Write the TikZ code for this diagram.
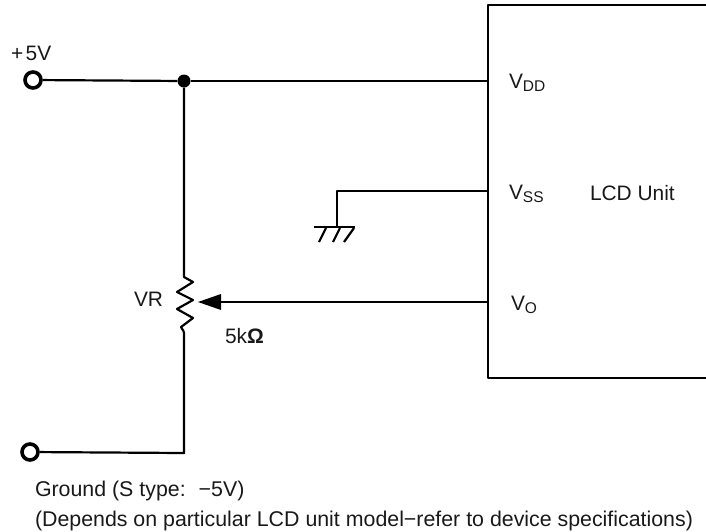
\documentclass[tikz,border=0pt]{standalone}
\usepackage{fontspec}
\setmainfont{Liberation Sans}
\newcommand{\lowidx}[1]{\raisebox{-3pt}{\fontsize{15.5}{18}\selectfont #1}}
\begin{document}
\begin{tikzpicture}[x=1pt,y=-1pt,
  wire/.style={draw=black,line width=2.2pt,line join=round},
  lbl/.style={anchor=base west,inner sep=0pt,outer sep=0pt,text=black!90,font=\fontsize{20.9}{24}\selectfont},
  lblwide/.style={lbl,font=\fontsize{21.35}{24}\selectfont},
  term/.style={circle,draw=black,line width=3.6pt,fill=white,minimum size=16pt,inner sep=0pt},
  junction/.style={circle,fill=black,minimum size=13pt,inner sep=0pt}]
\useasboundingbox (0,0) rectangle (706,531);
% terminals and junction
\node[term] (top) at (33,80) {};
\node[term] (bot) at (30,452) {};
\node[junction] (j) at (184,81) {};
% LCD unit box (open on the right edge of the picture)
\coordinate (bxTR) at (706,5);
\coordinate (bxTL) at (488,5);
\coordinate (bxBL) at (488,378);
\coordinate (bxBR) at (706,378);
\draw[wire] (bxTR) -- (bxTL) -- (bxBL) -- (bxBR);
\coordinate (vdd) at (488,81);
\coordinate (vss) at (488,191);
\coordinate (vo) at (488,302);
% supply lines
\draw[wire] (top) -- (j);
\draw[wire] (j) -- (vdd);
\coordinate (rt) at (184,277);
\coordinate (rb) at (184,332);
\coordinate (bc) at (184,453);
\draw[wire] (j) -- (rt)
  -- (193,282) -- (177,292) -- (193,300) -- (177,309) -- (193,318) -- (181,327) -- (rb);
\draw[wire] (rb) -- (bc) -- (bot);
% ground
\coordinate (gc) at (337,191);
\coordinate (gb) at (337,227);
\coordinate (gl) at (314,227);
\coordinate (gr) at (355,227);
\draw[wire] (vss) -- (gc) -- (gb);
\draw[wire] (gl) -- (gr);
\draw[wire] (326,228) -- (319,242);
\draw[wire] (340,228) -- (333,242);
\draw[wire] (354,228) -- (344,242);
% wiper
\coordinate (tip) at (198,302);
\coordinate (base) at (221,302);
\draw[wire] (vo) -- (base);
\fill[black] (tip) -- (221,294) -- (221,310) -- cycle;
% labels
\node[lbl] (t5) at (11,60) {+\kern2.5pt 5V};
\node[lbl] (tvr) at (134,306) {VR};
\node[lbl] (tk) at (225,343) {5k{\bfseries Ω}};
\node[lbl] (tdd) at (509,88) {V\lowidx{DD}};
\node[lbl] (tss) at (509,199) {V\lowidx{SS}};
\node[lbl] (to) at (511,310) {V\lowidx{O}};
\node[lbl] (tu) at (590,200) {LCD Unit};
\node[lblwide] (tg) at (35,496) {Ground (S type:\kern13pt −5V)};
\node[lblwide] (td) at (35,526) {(Depends on particular LCD unit model−refer to device specifications)};
\end{tikzpicture}
\end{document}
